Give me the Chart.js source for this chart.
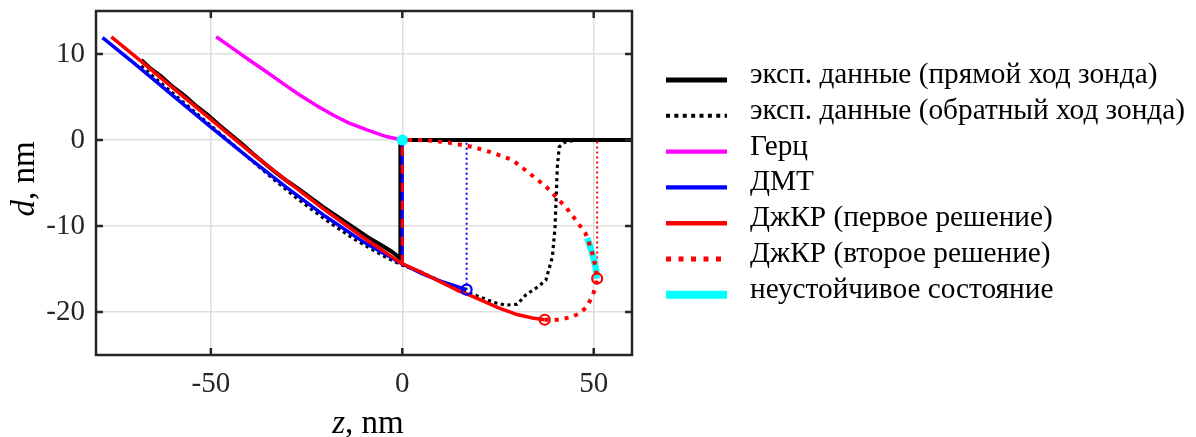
<!DOCTYPE html>
<html>
<head>
<meta charset="utf-8">
<style>
  body { margin: 0; background: #fff; }
  #wrap { width: 1196px; height: 437px; }
</style>
</head>
<body>
<div id="wrap"><canvas id="chart" width="1196" height="437"></canvas></div>
<script src="https://cdn.jsdelivr.net/npm/chart.js"></script>
<script>
// z, nm (x) and d, nm (y)
const expForwardZ = [-68.2, -66, -63, -60, -57, -54, -51, -48, -45, -42, -39, -36, -33, -30, -27, -24, -21, -18, -15, -12, -9, -6, -3, -1.5, -0.5, -0.5, 60];
const expForwardD = [9.3, 8.4, 7.4, 6.2, 5.2, 4.0, 3.0, 1.8, 0.7, -0.4, -1.6, -2.7, -3.8, -4.8, -5.7, -6.7, -7.7, -8.6, -9.5, -10.4, -11.3, -12.1, -12.9, -13.4, -13.8, 0, 0];

const expBackZ = [-68.2, -63, -58, -53, -48, -43, -38, -33, -28, -23, -18, -13, -8, -4, -0.3, 4, 8, 12, 16, 20, 24, 27, 30, 32.3, 35, 37.5, 39.2, 39.9, 40.5, 41, 42.7, 46, 60];
const expBackD = [8.6, 6.6, 4.7, 2.8, 0.9, -1.0, -2.9, -4.8, -6.6, -8.3, -9.9, -11.4, -12.7, -13.7, -14.5, -15.2, -16.0, -16.9, -17.6, -18.2, -18.9, -19.2, -19.1, -18.0, -17.2, -16.3, -13.6, -10.1, -3.1, -0.8, -0.2, 0, 0];

const hertzZ = [-48.6, -44.1, -40, -35.4, -30, -26.7, -22, -18.1, -14, -9.4, -4.2, 0];
const hertzD = [12.0, 10.6, 9.3, 7.9, 6.2, 5.2, 3.9, 2.9, 2.0, 1.2, 0.4, 0];

const dmtZ = [-78.3, -70, -60, -50, -40, -30, -20, -10, 0, 5, 10, 16.8];
const dmtD = [11.9, 8.9, 5.2, 1.5, -2.1, -5.6, -8.9, -11.9, -14.4, -15.5, -16.4, -17.4];

const jkr1Z = [-76, -70, -60, -50, -40, -30, -20, -10, 0, 5, 10, 15, 16.8, 20, 25, 30, 34, 37.2];
const jkr1D = [12.0, 9.8, 6.1, 2.4, -1.3, -4.8, -8.2, -11.4, -14.4, -15.4, -16.5, -17.6, -17.9, -18.5, -19.5, -20.3, -20.7, -20.9];

const jkr2Z = [37.2, 41, 44, 46.2, 48.2, 49.6, 50.5, 50.9, 50.5, 49.7, 48.8, 47.9, 45.5, 42.7, 37.5, 33, 28.7, 23, 18.4, 12, 7, 3, 0];
const jkr2D = [-20.9, -20.9, -20.6, -20.2, -19.4, -18.2, -17.1, -16.1, -14.8, -13.3, -12.0, -10.9, -9.4, -7.8, -5.4, -3.8, -2.3, -1.4, -0.8, -0.3, -0.05, 0, 0];

const unstableZ = [48.3, 48.8, 49.7, 50.5, 50.9];
const unstableD = [-11.4, -12.0, -13.3, -14.8, -16.1];

const jumpZ = [0, 0];
const jumpD = [-14.4, 0];
const dmtDetachZ = [16.8, 16.8];
const dmtDetachD = [-17.4, 0];
const jkrDetachZ = [50.9, 50.9];
const jkrDetachD = [-16.1, 0];

const jkrMarkZ = [37.2, 50.9];
const jkrMarkD = [-20.9, -16.1];
const dmtMarkZ = [16.8];
const dmtMarkD = [-17.4];
const contactZ = [0];
const contactD = [0];

const xTicks = [-50, 0, 50];
const yTicks = [-20, -10, 0, 10];

const legendLabels = [
  'эксп. данные (прямой ход зонда)',
  'эксп. данные (обратный ход зонда)',
  'Герц',
  'ДМТ',
  'ДжКР (первое решение)',
  'ДжКР (второе решение)',
  'неустойчивое состояние'
];

function pts(zs, ds) {
  return zs.map((z, i) => ({ x: z, y: ds[i] }));
}

const FONT = '"Liberation Serif", "Times New Roman", serif';
const AXIS = '#262626';

function line(label, zs, ds, color, width, dash) {
  return {
    label: label, data: pts(zs, ds), showLine: true,
    borderColor: color, backgroundColor: color, borderWidth: width,
    borderDash: dash || [], pointRadius: 0, pointHoverRadius: 0, tension: 0
  };
}
function marks(zs, ds, color, r, filled) {
  return {
    label: '', data: pts(zs, ds), showLine: false,
    borderColor: color, backgroundColor: filled ? color : 'rgba(0,0,0,0)',
    pointRadius: r, pointBorderWidth: 2.2, pointHoverRadius: r
  };
}

// first dataset is drawn on top
const datasets = [
  marks(jkrMarkZ, jkrMarkD, '#ff0000', 5, false),
  marks(dmtMarkZ, dmtMarkD, '#0000ff', 5, false),
  marks(contactZ, contactD, '#00ffff', 4.5, true),
  line('', jumpZ, jumpD, '#ff0000', 3.2, [9, 9]),
  line(legendLabels[5], jkr2Z, jkr2D, '#ff0000', 4, [4, 6]),
  line(legendLabels[6], unstableZ, unstableD, '#00ffff', 6.5),
  line(legendLabels[4], jkr1Z, jkr1D, '#ff0000', 3.5),
  line('', jumpZ, jumpD, '#0000ff', 3.2),
  line(legendLabels[3], dmtZ, dmtD, '#0000ff', 3.5),
  line('', jkrDetachZ, jkrDetachD, '#ff0000', 2, [2, 3]),
  line('', dmtDetachZ, dmtDetachD, '#0000ff', 2, [2, 3]),
  line(legendLabels[0], expForwardZ, expForwardD, '#000000', 4),
  line(legendLabels[1], expBackZ, expBackD, '#000000', 3.2, [3.2, 3.5]),
  line(legendLabels[2], hertzZ, hertzD, '#ff00ff', 3.5)
];

const framePlugin = {
  id: 'frame',
  afterDraw(chart) {
    const ctx = chart.ctx;
    const a = chart.chartArea;
    const xs = chart.scales.x, ys = chart.scales.y;
    ctx.save();
    ctx.strokeStyle = AXIS;
    ctx.lineWidth = 2.5;
    ctx.strokeRect(a.left, a.top, a.right - a.left, a.bottom - a.top);
    const tl = 7;
    ctx.beginPath();
    xTicks.forEach(v => {
      const px = xs.getPixelForValue(v);
      ctx.moveTo(px, a.bottom); ctx.lineTo(px, a.bottom - tl);
      ctx.moveTo(px, a.top); ctx.lineTo(px, a.top + tl);
    });
    yTicks.forEach(v => {
      const py = ys.getPixelForValue(v);
      ctx.moveTo(a.left, py); ctx.lineTo(a.left + tl, py);
      ctx.moveTo(a.right, py); ctx.lineTo(a.right - tl, py);
    });
    ctx.stroke();

    // axis titles: italic symbol + regular unit
    ctx.fillStyle = '#000';
    ctx.textBaseline = 'alphabetic';
    function title(sym, rest, cx, cy, rot) {
      ctx.save();
      ctx.translate(cx, cy);
      if (rot) ctx.rotate(-Math.PI / 2);
      ctx.font = 'italic 33px ' + FONT;
      const w1 = ctx.measureText(sym).width;
      ctx.font = '33px ' + FONT;
      const w2 = ctx.measureText(rest).width;
      let x0 = -(w1 + w2) / 2;
      ctx.font = 'italic 33px ' + FONT;
      ctx.fillText(sym, x0, 0);
      ctx.font = '33px ' + FONT;
      ctx.fillText(rest, x0 + w1, 0);
      ctx.restore();
    }
    title('z', ', nm', (a.left + a.right) / 2 + 4, 433, false);
    title('d', ', nm', 34, (a.top + a.bottom) / 2 - 4, true);

    // legend
    const x0 = 666, x1 = 727, tx = 750, y0 = 80, dy = 35.8;
    legendLabels.forEach((lab, i) => {
      const ds = chart.data.datasets.find(d => d.label === lab);
      const y = y0 + i * dy;
      const k = 1.25;
      ctx.save();
      ctx.strokeStyle = ds.borderColor;
      ctx.lineWidth = ds.borderWidth * k;
      ctx.setLineDash((ds.borderDash || []).map(v => v * k));
      ctx.beginPath();
      ctx.moveTo(x0, y); ctx.lineTo(x1, y);
      ctx.stroke();
      ctx.restore();
      ctx.font = '29.3px ' + FONT;
      ctx.fillStyle = '#000';
      ctx.textAlign = 'left';
      ctx.fillText(lab, tx, y + 3);
    });
    ctx.restore();
  }
};

new Chart(document.getElementById('chart'), {
  type: 'scatter',
  data: { datasets: datasets },
  options: {
    responsive: false,
    animation: false,
    devicePixelRatio: 1,
    layout: { padding: { left: 0, top: 11, right: 564, bottom: 0 } },
    plugins: { legend: { display: false }, tooltip: { enabled: false } },
    scales: {
      x: {
        type: 'linear', min: -80, max: 60,
        afterBuildTicks: s => { s.ticks = xTicks.map(v => ({ value: v })); },
        afterFit: s => { s.height = 82; s.paddingLeft = 0; s.paddingRight = 0; },
        grid: { color: '#dedede', lineWidth: 1.5, drawTicks: false },
        border: { display: false },
        ticks: { font: { family: FONT, size: 29 }, color: AXIS, padding: 12, maxRotation: 0 }
      },
      y: {
        type: 'linear', min: -25, max: 15,
        afterBuildTicks: s => { s.ticks = yTicks.map(v => ({ value: v })); },
        afterFit: s => { s.width = 96; s.paddingTop = 0; s.paddingBottom = 0; },
        grid: { color: '#dedede', lineWidth: 1.5, drawTicks: false },
        border: { display: false },
        ticks: { font: { family: FONT, size: 29 }, color: AXIS, padding: 11 }
      }
    }
  },
  plugins: [framePlugin]
});
</script>
</body>
</html>
